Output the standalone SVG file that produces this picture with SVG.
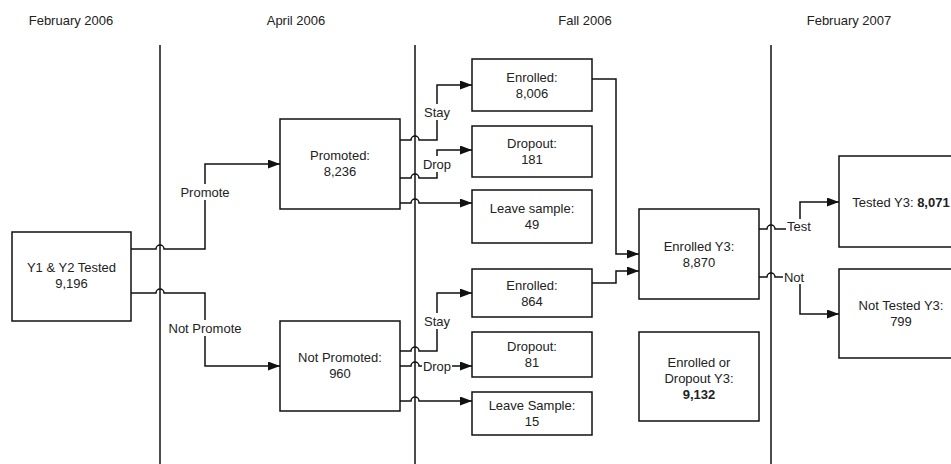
<svg xmlns="http://www.w3.org/2000/svg" width="951" height="464" viewBox="0 0 951 464">
<style>
text{font-family:"Liberation Sans",Arial,sans-serif;font-size:13px;fill:#222;text-anchor:middle}
.box{fill:#fff;stroke:#111;stroke-width:1.5}
.tl{stroke:#111;stroke-width:1.5;fill:none}
.c{stroke:#111;stroke-width:1.5;fill:none}
.arr{marker-end:url(#ah)}
.lbg{fill:#fff}
b,.b{font-weight:bold}
</style>
<defs>
<marker id="ah" markerUnits="userSpaceOnUse" markerWidth="13" markerHeight="9" refX="12" refY="4.5" orient="auto">
<path d="M0 0 L12 4.5 L0 9 z" fill="#111"/>
</marker>
</defs>
<g id="timeline">
<text x="71" y="25">February 2006</text>
<text x="296" y="25">April 2006</text>
<text x="585" y="25">Fall 2006</text>
<text x="849" y="25">February 2007</text>
<line class="tl" x1="160" y1="45" x2="160" y2="464"/>
<line class="tl" x1="415" y1="45" x2="415" y2="464"/>
<line class="tl" x1="771" y1="45" x2="771" y2="464"/>
</g>
<g id="connectors">
<path class="c arr" d="M131 249 H156 A4 4 0 0 1 164 249 H205 V164 H280"/>
<path class="c arr" d="M131 293 H156 A4 4 0 0 1 164 293 H205 V366 H280"/>
<path class="c arr" d="M400 140 H411 A4 4 0 0 1 419 140 H437 V85 H472"/>
<path class="c arr" d="M400 178 H411 A4 4 0 0 1 419 178 H437 V150 H472"/>
<path class="c arr" d="M400 203 H411 A4 4 0 0 1 419 203 H472"/>
<path class="c arr" d="M400 351 H411 A4 4 0 0 1 419 351 H437 V293 H472"/>
<path class="c arr" d="M400 366 H411 A4 4 0 0 1 419 366 H472"/>
<path class="c arr" d="M400 401 H411 A4 4 0 0 1 419 401 H472"/>
<path class="c arr" d="M592 79 H616 V254 H639"/>
<path class="c arr" d="M592 283 H616 V271 H639"/>
<path class="c arr" d="M759 229 H767 A4 4 0 0 1 775 229 H800 V202 H839"/>
<path class="c arr" d="M759 277 H767 A4 4 0 0 1 775 277 H800 V314 H839"/>
<rect class="lbg" x="178" y="184" width="54" height="16"/>
<text x="205" y="197">Promote</text>
<rect class="lbg" x="166" y="320" width="78" height="16"/>
<text x="205" y="333">Not Promote</text>
<rect class="lbg" x="423" y="104" width="28" height="16"/>
<text x="437" y="117">Stay</text>
<rect class="lbg" x="422" y="156" width="30" height="16"/>
<text x="437" y="169">Drop</text>
<rect class="lbg" x="423" y="313" width="28" height="16"/>
<text x="437" y="326">Stay</text>
<rect class="lbg" x="422" y="358" width="30" height="16"/>
<text x="437" y="371">Drop</text>
<rect class="lbg" x="786" y="219" width="27" height="14"/>
<text x="799" y="231">Test</text>
<rect class="lbg" x="783" y="270" width="22" height="14"/>
<text x="794" y="282">Not</text>
</g>
<g id="n_y1y2">
<rect class="box" x="12" y="232" width="119" height="89"/>
<text x="71.5" y="271.5">Y1 &amp; Y2 Tested</text>
<text x="71.5" y="287.5">9,196</text>
</g>
<g id="n_promoted">
<rect class="box" x="280" y="119" width="120" height="90"/>
<text x="340" y="160">Promoted:</text>
<text x="340" y="176">8,236</text>
</g>
<g id="n_notpromoted">
<rect class="box" x="280" y="321" width="120" height="90"/>
<text x="340" y="362">Not Promoted:</text>
<text x="340" y="378">960</text>
</g>
<g id="n_enrolled1">
<rect class="box" x="472" y="59" width="120" height="52"/>
<text x="532" y="81.5">Enrolled:</text>
<text x="532" y="97.5">8,006</text>
</g>
<g id="n_dropout1">
<rect class="box" x="472" y="126" width="120" height="51"/>
<text x="532" y="148">Dropout:</text>
<text x="532" y="164">181</text>
</g>
<g id="n_leave1">
<rect class="box" x="472" y="190" width="120" height="53"/>
<text x="532" y="213">Leave sample:</text>
<text x="532" y="229">49</text>
</g>
<g id="n_enrolled2">
<rect class="box" x="472" y="269" width="120" height="48"/>
<text x="532" y="289.5">Enrolled:</text>
<text x="532" y="305.5">864</text>
</g>
<g id="n_dropout2">
<rect class="box" x="472" y="332" width="120" height="45"/>
<text x="532" y="351">Dropout:</text>
<text x="532" y="367">81</text>
</g>
<g id="n_leave2">
<rect class="box" x="472" y="392" width="120" height="43"/>
<text x="532" y="410">Leave Sample:</text>
<text x="532" y="426">15</text>
</g>
<g id="n_enrolledy3">
<rect class="box" x="639" y="209" width="120" height="90"/>
<text x="699" y="250.5">Enrolled Y3:</text>
<text x="699" y="266.5">8,870</text>
</g>
<g id="n_enrolledordropout">
<rect class="box" x="639" y="332" width="120" height="89"/>
<text x="699" y="366.5">Enrolled or</text>
<text x="699" y="382.5">Dropout Y3:</text>
<text x="699" y="398.5" class="b">9,132</text>
</g>
<g id="n_testedy3">
<rect class="box" x="839" y="156" width="124" height="91"/>
<text x="901" y="206.5">Tested Y3: <tspan class="b">8,071</tspan></text>
</g>
<g id="n_nottestedy3">
<rect class="box" x="839" y="269" width="124" height="89"/>
<text x="901" y="309.5">Not Tested Y3:</text>
<text x="901" y="325.5">799</text>
</g>
</svg>
